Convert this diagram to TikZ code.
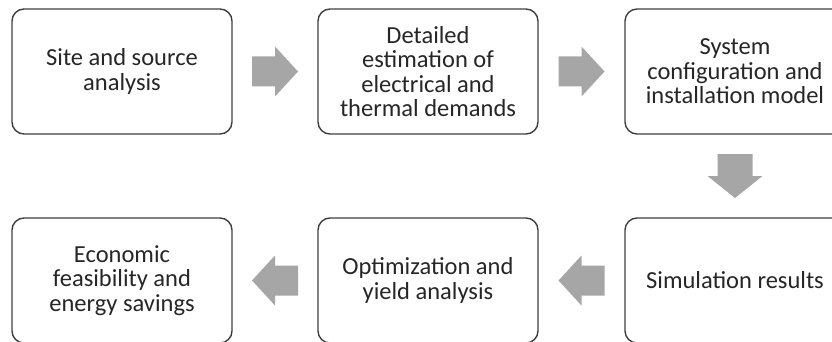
\documentclass[tikz,border=0pt]{standalone}
\usepackage{fontspec}
\setmainfont{Carlito}
\usetikzlibrary{calc}
\definecolor{boxline}{HTML}{3F3F3F}
\definecolor{arrowgray}{HTML}{A6A6A6}
\definecolor{textcol}{HTML}{262626}
\begin{document}
\begin{tikzpicture}[x=1pt,y=-1pt,
  stepbox/.style={draw=boxline, line width=1.4pt, rounded corners=12pt,
    minimum width=220pt, minimum height=125pt, inner sep=0pt,
    align=center, text=textcol, font=\fontsize{24.5}{24.4}\selectfont},
  % block arrow pointing right, centred on its origin
  blockarrow/.pic={\fill[arrowgray] (-23,-15) -- (0,-15) -- (0,-25) -- (23,0)
      -- (0,25) -- (0,15) -- (-23,15) -- cycle;},
  % wider, shorter block arrow pointing right (used turned downwards)
  blockarrowwide/.pic={\fill[arrowgray] (-22,-17.5) -- (0,-17.5) -- (0,-27.5)
      -- (22,0) -- (0,27.5) -- (0,17.5) -- (-22,17.5) -- cycle;}]
\useasboundingbox (0,0) rectangle (832,342);
\fill[white] (0,0) rectangle (832,342);
\clip (0,0) rectangle (832,342);

% process steps
\node[stepbox] (site)  at (122,71.5)  {Site and source\\analysis};
\node[stepbox] (dem)   at (428,71.5)  {Detailed\\estimation of\\electrical and\\thermal demands};
\node[stepbox] (sys)   at (735,71.5)  {System\\configuration and\\installation model};
\node[stepbox] (sim)   at (735,280.5) {Simulation results};
\node[stepbox] (opt)   at (428,280.5) {Optimization and\\yield analysis};
\node[stepbox] (eco)   at (122,280.5) {Economic\\feasibility and\\energy savings};

% block arrows between steps
\coordinate (m1) at ($(site.east)!0.5!(dem.west)$);
\coordinate (m2) at ($(dem.east)!0.5!(sys.west)$);
\coordinate (m3) at ($(sys.south)!0.5!(sim.north)$);
\coordinate (m4) at ($(sim.west)!0.5!(opt.east)$);
\coordinate (m5) at ($(opt.west)!0.5!(eco.east)$);
\pic at (m1) {blockarrow};
\pic at (m2) {blockarrow};
\pic[rotate=-90] at (m3) {blockarrowwide};
\pic[rotate=180] at (m4) {blockarrow};
\pic[rotate=180] at (m5) {blockarrow};
\end{tikzpicture}
\end{document}
